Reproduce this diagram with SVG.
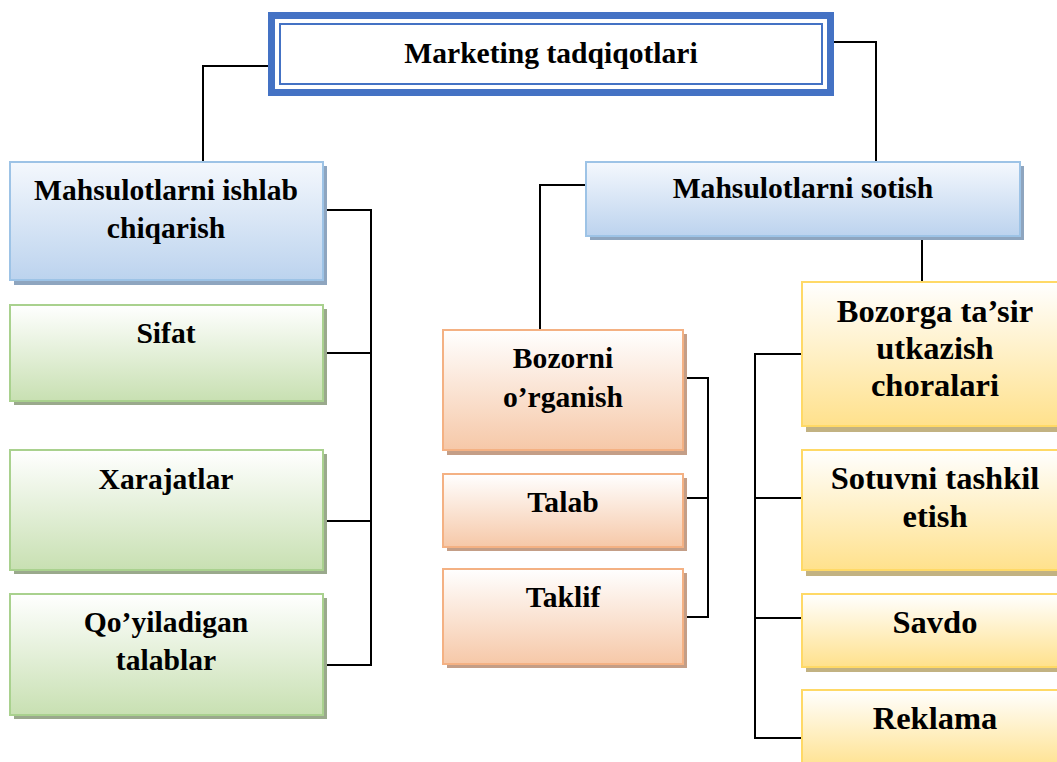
<svg xmlns="http://www.w3.org/2000/svg" width="1057" height="762" viewBox="0 0 1057 762">
  <style>
    .t { font-family: "Liberation Serif", "Times New Roman", serif; font-weight: bold; font-size: 29.6px; fill: #000; text-anchor: middle; }
    .big { font-size: 32.5px; }
    .wire { fill: none; stroke: #000; stroke-width: 2; }
    .blue { fill: url(#gBlue); stroke: #9dc3e6; stroke-width: 2; }
    .green { fill: url(#gGreen); stroke: #a9d18e; stroke-width: 2; }
    .orange { fill: url(#gOrange); stroke: #f4b183; stroke-width: 2; }
    .yellow { fill: url(#gYellow); stroke: #ffd966; stroke-width: 2; }
    .shB { fill: #8ea5bf; }
    .shG { fill: #9aa98c; }
    .shO { fill: #c49e87; }
    .shY { fill: #c2b282; }
  </style>
  <defs>
    <linearGradient id="gBlue" x1="0" y1="0" x2="0" y2="1">
      <stop offset="0" stop-color="#f4f8fd"/>
      <stop offset="1" stop-color="#bcd3ee"/>
    </linearGradient>
    <linearGradient id="gGreen" x1="0" y1="0" x2="0" y2="1">
      <stop offset="0" stop-color="#ffffff"/>
      <stop offset="1" stop-color="#c8e0b2"/>
    </linearGradient>
    <linearGradient id="gOrange" x1="0" y1="0" x2="0" y2="1">
      <stop offset="0" stop-color="#ffffff"/>
      <stop offset="1" stop-color="#f6c8a8"/>
    </linearGradient>
    <linearGradient id="gYellow" x1="0" y1="0" x2="0" y2="1">
      <stop offset="0" stop-color="#ffffff"/>
      <stop offset="1" stop-color="#ffe18c"/>
    </linearGradient>
  </defs>

  <rect width="1057" height="762" fill="#ffffff"/>

  <!-- connectors -->
  <g id="connectors">
    <path class="wire" d="M268 66 H203 V161"/>
    <path class="wire" d="M834 42 H876 V162"/>
    <path class="wire" d="M323 210 H371 V665 H323 M323 353 H371 M323 521 H371"/>
    <path class="wire" d="M586 185 H540 V329"/>
    <path class="wire" d="M922 236 V281"/>
    <path class="wire" d="M683 378 H708 V617 H683 M683 498 H708"/>
    <path class="wire" d="M802 354 H755 V738 H802 M755 498 H802 M755 618 H802"/>
  </g>

  <!-- root -->
  <g id="root">
    <rect x="271.5" y="15.5" width="559" height="77" fill="#ffffff" stroke="#4472c4" stroke-width="7"/>
    <rect x="280" y="24" width="542" height="60" fill="none" stroke="#4472c4" stroke-width="2"/>
    <text class="t" x="551" y="63">Marketing tadqiqotlari</text>
  </g>

  <!-- production branch -->
  <g id="production">
    <rect class="shB" x="14" y="166" width="313" height="119"/>
    <rect class="blue" x="10" y="162" width="313" height="118"/>
    <text class="t" x="166" y="200">Mahsulotlarni ishlab</text>
    <text class="t" x="166" y="238">chiqarish</text>
  </g>
  <g id="sifat">
    <rect class="shG" x="14" y="309" width="313" height="96"/>
    <rect class="green" x="10" y="305" width="313" height="96"/>
    <text class="t" x="166" y="343">Sifat</text>
  </g>
  <g id="xarajatlar">
    <rect class="shG" x="14" y="454" width="313" height="120"/>
    <rect class="green" x="10" y="450" width="313" height="120"/>
    <text class="t" x="166" y="489">Xarajatlar</text>
  </g>
  <g id="talablar">
    <rect class="shG" x="14" y="598" width="313" height="121"/>
    <rect class="green" x="10" y="594" width="313" height="121"/>
    <text class="t" x="166" y="632">Qo’yiladigan</text>
    <text class="t" x="166" y="670">talablar</text>
  </g>

  <!-- sales branch -->
  <g id="sales">
    <rect class="shB" x="590" y="166" width="434" height="74"/>
    <rect class="blue" x="586" y="162" width="434" height="74"/>
    <text class="t" x="803" y="198">Mahsulotlarni sotish</text>
  </g>

  <g id="bozorni">
    <rect class="shO" x="447" y="334" width="240" height="121"/>
    <rect class="orange" x="443" y="330" width="240" height="120"/>
    <text class="t" x="563" y="368">Bozorni</text>
    <text class="t" x="563" y="407">o’rganish</text>
  </g>
  <g id="talab">
    <rect class="shO" x="447" y="478" width="240" height="73"/>
    <rect class="orange" x="443" y="474" width="240" height="73"/>
    <text class="t" x="563" y="512">Talab</text>
  </g>
  <g id="taklif">
    <rect class="shO" x="447" y="573" width="240" height="95"/>
    <rect class="orange" x="443" y="569" width="240" height="95"/>
    <text class="t" x="563" y="607">Taklif</text>
  </g>

  <g id="bozorga">
    <rect class="shY" x="806" y="286" width="262" height="146"/>
    <rect class="yellow" x="802" y="282" width="262" height="144"/>
    <text class="t big" x="935" y="322">Bozorga ta’sir</text>
    <text class="t big" x="935" y="359">utkazish</text>
    <text class="t big" x="935" y="396">choralari</text>
  </g>
  <g id="sotuvni">
    <rect class="shY" x="806" y="454" width="262" height="122"/>
    <rect class="yellow" x="802" y="450" width="262" height="120"/>
    <text class="t big" x="935" y="489">Sotuvni tashkil</text>
    <text class="t big" x="935" y="527">etish</text>
  </g>
  <g id="savdo">
    <rect class="shY" x="806" y="598" width="262" height="74"/>
    <rect class="yellow" x="802" y="594" width="262" height="73"/>
    <text class="t big" x="935" y="633">Savdo</text>
  </g>
  <g id="reklama">
    <rect class="shY" x="806" y="694" width="262" height="80"/>
    <rect class="yellow" x="802" y="690" width="262" height="80"/>
    <text class="t big" x="935" y="729">Reklama</text>
  </g>
</svg>
